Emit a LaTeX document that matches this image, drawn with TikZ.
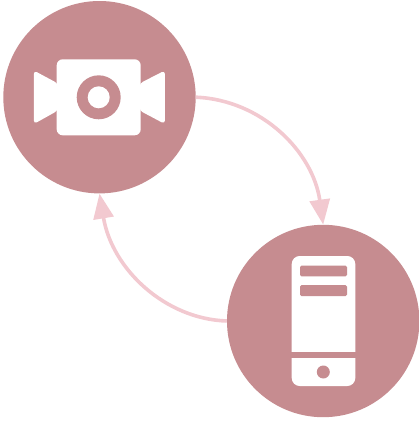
\documentclass[tikz,border=0pt]{standalone}
\usetikzlibrary{arrows.meta}
\definecolor{disc}{HTML}{C68C90}
\definecolor{flow}{HTML}{F2C9D0}
\tikzset{
  discnode/.style={circle,fill=disc,draw=none,inner sep=0pt,minimum size=192.4pt},
  glyph/.style={fill=white,draw=none},
  cut/.style={fill=disc,draw=none},
  flowline/.style={draw=flow,line width=3.6pt,-{Triangle[length=25pt,width=20pt,fill=flow]}}
}
\begin{document}
\begin{tikzpicture}[x=1pt,y=-1pt]
\useasboundingbox (0,0) rectangle (419,421);
\node[discnode] (cam) at (99.5,97.2) {};
\node[discnode] (phone) at (323.2,321) {};
% camera
\fill[glyph,rounded corners=6pt] (56.7,59.3) rectangle (140.7,135.3);
\fill[glyph,rounded corners=3.5pt] (58,83.5) -- (33.8,70.5) -- (33.8,124) -- (58,110.5) -- cycle;
\fill[glyph,rounded corners=3.5pt] (139.5,83.5) -- (164.9,70.5) -- (164.9,124) -- (139.5,110.5) -- cycle;
\fill[cut] (98.7,97.3) circle (22);
\fill[glyph] (98.7,97.3) circle (11);
% phone
\fill[glyph,rounded corners=8pt] (291.7,256) rectangle (355.3,386);
\fill[cut] (291,352.4) rectangle (356,357.6);
\fill[cut,rounded corners=1.5pt] (300,265.7) rectangle (347,276.3);
\fill[cut,rounded corners=1.5pt] (300,285) rectangle (347,296);
\fill[cut] (323.3,372) circle (6.5);
% connectors
\draw[flowline] (cam.east) .. controls (262,100) and (313,152) .. (phone.north);
\draw[flowline] (phone.west) .. controls (165,319) and (112,269) .. (cam.south);
\end{tikzpicture}
\end{document}
